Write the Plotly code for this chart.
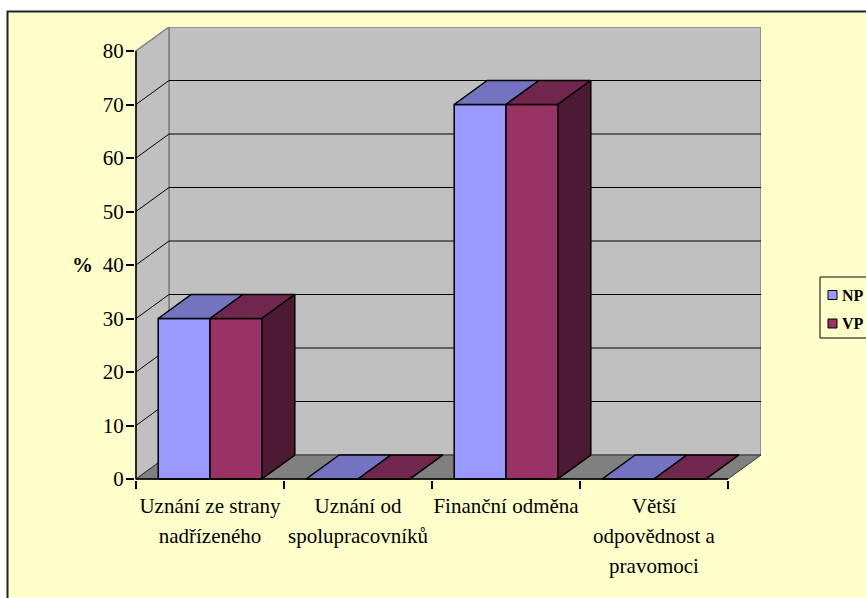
import plotly.graph_objects as go

# ---- data ----
categories = ["Uznání ze strany<br>nadřízeného", "Uznání od<br>spolupracovníků",
              "Finanční odměna", "Větší<br>odpovědnost a<br>pravomoci"]
np_values = [30, 0, 70, 0]
vp_values = [30, 0, 70, 0]
series_names = ["NP", "VP"]
y_ticks = [0, 10, 20, 30, 40, 50, 60, 70, 80]

# ---- styling / geometry (pixel based) ----
FIG_W, FIG_H = 866, 598
L, T = 135, 27
PX_X = 148.0          # px per category
PX_Y = 5.35           # px per percent
DX_PX, DY_PX = 33, 24  # 3D depth offset in px
d = DX_PX / PX_X
h = DY_PX / PX_Y
x_lo = -0.5 - 1 / PX_X
x_hi = len(categories) - 0.5 + d
y_lo = -1 / PX_Y
y_hi = y_ticks[-1] + h
W = (x_hi - x_lo) * PX_X
H = (y_hi - y_lo) * PX_Y
R = FIG_W - L - W
B = FIG_H - T - H

BAR_W = 0.35
FONT = "'Liberation Serif', 'Times New Roman', Times, serif"
FS = 21
colors = {
    "NP": dict(front="#9999FF", top="#7373BF", side="#4D4D80"),
    "VP": dict(front="#993366", top="#70264D", side="#4D1A33"),
}

def px2paper_x(px):
    return (px - L) / W

def px2paper_y(py):
    return (FIG_H - B - py) / H

fig = go.Figure()

xs = list(range(len(categories)))
series = [("NP", np_values, -BAR_W), ("VP", vp_values, 0.0)]

# front faces as real bars
for name, vals, off in series:
    fig.add_trace(go.Bar(
        x=xs, y=vals, width=BAR_W, offset=off, name=name,
        marker=dict(color=colors[name]["front"], line=dict(color="black", width=1.5)),
        hoverinfo="skip", showlegend=False,
    ))

# top and side faces derived from the values
for name, vals, off in series:
    for i, v in enumerate(vals):
        xl = i + off
        xr = xl + BAR_W
        fig.add_trace(go.Scatter(
            x=[xl, xl + d, xr + d, xr, xl], y=[v, v + h, v + h, v, v],
            mode="lines", fill="toself", fillcolor=colors[name]["top"],
            line=dict(color="black", width=1.5), hoverinfo="skip", showlegend=False))
        if name == "VP":
            fig.add_trace(go.Scatter(
                x=[xr, xr + d, xr + d, xr, xr], y=[0, h, v + h, v, 0],
                mode="lines", fill="toself", fillcolor=colors[name]["side"],
                line=dict(color="black", width=1.5), hoverinfo="skip", showlegend=False))

# ---- walls, floor, gridlines, axis lines ----
x0, x1 = -0.5, len(categories) - 0.5
ymax = y_ticks[-1]
shapes = []
# outer frame (chart area)
shapes.append(dict(type="rect", xref="paper", yref="paper",
                   x0=px2paper_x(7.5), x1=px2paper_x(FIG_W + 20),
                   y0=px2paper_y(FIG_H + 20), y1=px2paper_y(11.5),
                   fillcolor="#FFFFCC", line=dict(color="#222222", width=2), layer="below"))
# back wall
shapes.append(dict(type="rect", xref="x", yref="y", x0=x0 + d, x1=x1 + d, y0=h, y1=ymax + h,
                   fillcolor="#C0C0C0", line=dict(color="#808080", width=1.5), layer="below"))
# side wall
shapes.append(dict(type="path", xref="x", yref="y",
                   path=f"M{x0},0 L{x0},{ymax} L{x0 + d},{ymax + h} L{x0 + d},{h} Z",
                   fillcolor="#C0C0C0", line=dict(color="#808080", width=1.5), layer="below"))
# floor
shapes.append(dict(type="path", xref="x", yref="y",
                   path=f"M{x0},0 L{x1},0 L{x1 + d},{h} L{x0 + d},{h} Z",
                   fillcolor="#808080", line=dict(color="#333333", width=1), layer="below"))
# gridlines
for v in y_ticks[1:-1]:
    shapes.append(dict(type="line", xref="x", yref="y", x0=x0 + d, x1=x1 + d, y0=v + h, y1=v + h,
                       line=dict(color="black", width=1), layer="below"))
    shapes.append(dict(type="line", xref="x", yref="y", x0=x0, x1=x0 + d, y0=v, y1=v + h,
                       line=dict(color="black", width=1), layer="below"))
# axis lines (front)
shapes.append(dict(type="line", xref="x", yref="y", x0=x0, x1=x0, y0=0, y1=ymax,
                   line=dict(color="black", width=1.5), layer="above"))
shapes.append(dict(type="line", xref="x", yref="y", x0=x0, x1=x1, y0=0, y1=0,
                   line=dict(color="black", width=1.5), layer="above"))

# legend (box + swatches + labels)
LEG_X, LEG_Y0, LEG_Y1 = 820, 277, 338
leg_rows = [295, 323.5]
shapes.append(dict(type="rect", xref="paper", yref="paper",
                   x0=px2paper_x(LEG_X), x1=px2paper_x(FIG_W + 30),
                   y0=px2paper_y(LEG_Y1), y1=px2paper_y(LEG_Y0),
                   fillcolor="#FFFFCC", line=dict(color="black", width=1), layer="above"))
annotations = []
for name, cy in zip(series_names, leg_rows):
    shapes.append(dict(type="rect", xref="paper", yref="paper",
                       x0=px2paper_x(828), x1=px2paper_x(837),
                       y0=px2paper_y(cy + 4.5), y1=px2paper_y(cy - 4.5),
                       fillcolor=colors[name]["front"], line=dict(color="black", width=1),
                       layer="above"))
    annotations.append(dict(text=f"<b>{name}</b>", xref="paper", yref="paper",
                            x=px2paper_x(840), y=px2paper_y(cy), xanchor="left",
                            yanchor="middle", showarrow=False,
                            font=dict(family=FONT, size=16, color="black")))

annotations.append(dict(text="<b>%</b>", xref="paper", yref="y", x=px2paper_x(82), y=40,
                        xanchor="center", yanchor="middle", showarrow=False,
                        font=dict(family=FONT, size=FS, color="black")))

# category labels: one overlaid x axis per text line
label_lines = [c.split("<br>") for c in categories]
n_lines = max(len(l) for l in label_lines)
LINE_GAP = 30
axes_cfg = {}
for k in range(n_lines):
    axes_cfg[f"xaxis{k + 2}"] = dict(
        range=[x_lo, x_hi], overlaying="x", anchor="y", side="bottom",
        tickvals=xs, ticktext=[l[k] if k < len(l) else "" for l in label_lines],
        ticks="", showgrid=False, zeroline=False, showline=False,
        tickfont=dict(family=FONT, size=FS, color="black"),
        ticklabelstandoff=11 + LINE_GAP * k)

fig.update_layout(
    width=FIG_W, height=FIG_H,
    margin=dict(l=L, r=R, t=T, b=B, pad=0, autoexpand=False),
    paper_bgcolor="white", plot_bgcolor="rgba(0,0,0,0)",
    barmode="overlay", showlegend=False,
    shapes=shapes, annotations=annotations,
    font=dict(family=FONT, color="black", size=FS),
    xaxis=dict(range=[x_lo, x_hi], tickvals=[i - 0.5 for i in range(len(categories) + 1)],
               ticktext=[""] * (len(categories) + 1), ticks="outside", ticklen=8,
               tickcolor="black", tickwidth=1.5, showgrid=False, zeroline=False,
               showline=False, fixedrange=True),
    yaxis=dict(range=[y_lo, y_hi], tickvals=y_ticks, ticks="outside", ticklen=8,
               tickcolor="black", tickwidth=1.5, showgrid=False, zeroline=False,
               showline=False, ticklabelstandoff=-2,
               tickfont=dict(family=FONT, size=FS, color="black")),
    **axes_cfg,
)
# invisible traces to activate the label axes
for k in range(n_lines):
    fig.add_trace(go.Scatter(x=xs, y=[None] * len(xs), xaxis=f"x{k + 2}", yaxis="y",
                             mode="markers", showlegend=False, hoverinfo="skip"))

fig.write_html("out.html")
